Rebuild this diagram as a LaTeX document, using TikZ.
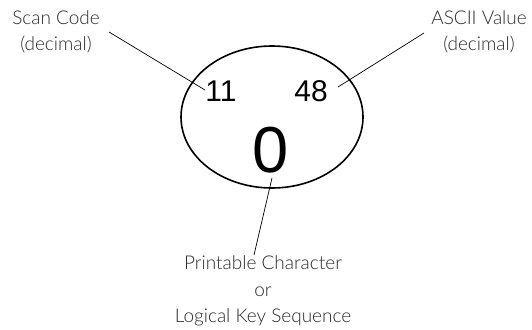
\documentclass[tikz,border=0pt]{standalone}
\usepackage{fontspec}
\setmainfont{Lato Light}
\newfontfamily\numfont{Liberation Sans}
\definecolor{labgray}{HTML}{2A2A2A}
\begin{document}
\begin{tikzpicture}[x=1pt,y=-1pt,
  lab/.style={text=labgray,font=\fontsize{19}{26.5}\selectfont,align=center,inner sep=0pt},
  num/.style={font=\numfont\fontsize{30}{30}\selectfont,inner sep=0pt},
  big/.style={font=\numfont\fontsize{65}{65}\selectfont,inner sep=0pt},
  lead/.style={line width=0.7pt}]
\useasboundingbox (0,0) rectangle (532,329);
\draw[line width=1.6pt] (272,117) ellipse [x radius=91, y radius=71];
\node[num] (n11) at (221,91) {11};
\node[num] (n48) at (311,91) {48};
\node[big] (n0) at (271,150) {0};
\node[lab] (scan) at (56,32) {Scan Code\\(decimal)};
\node[lab] (ascii) at (479,32) {ASCII Value\\(decimal)};
\node[lab] (pc) at (263,291) {Printable Character\\or\\Logical Key Sequence};
\coordinate (s1) at (109,32);
\coordinate (s2) at (205,90);
\coordinate (a1) at (424,33);
\coordinate (a2) at (338,87);
\coordinate (p1) at (272,178);
\coordinate (p2) at (254,255);
\draw[lead] (s1) -- (s2);
\draw[lead] (a1) -- (a2);
\draw[lead] (p1) -- (p2);
\end{tikzpicture}
\end{document}
